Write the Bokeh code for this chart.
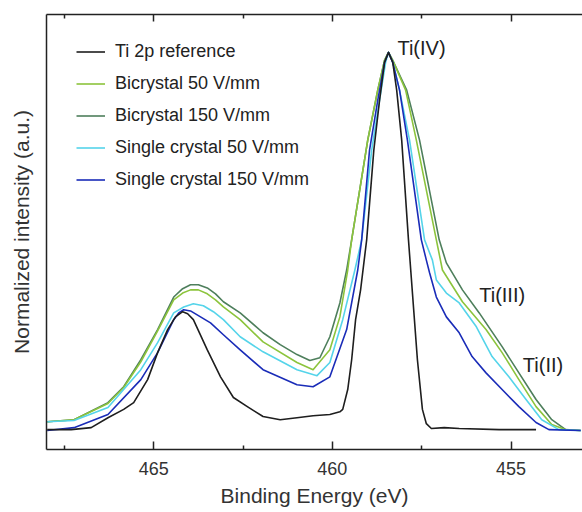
from bokeh.plotting import figure
from bokeh.models import Range1d, LinearAxis, FixedTicker, Label, Legend, LegendItem
from bokeh.embed import file_html
from bokeh.resources import INLINE

# ---- data (binding energy in eV, normalized intensity) ----
ref_energy = [467.98, 467.31, 466.75, 466.28, 465.84, 465.56, 465.17, 464.89, 464.61, 464.39,
              464.19, 464.05, 463.89, 463.50, 463.13, 462.77, 462.38, 461.94, 461.46, 460.99, 460.54,
              460.07, 459.79, 459.71, 459.57, 459.46, 459.35, 459.21, 459.04, 458.84, 458.68,
              458.54, 458.43, 458.31, 458.20, 458.06, 457.87, 457.62, 457.48, 457.37, 457.23,
              456.87, 456.45, 455.33, 454.30]
ref_int = [0.050, 0.050, 0.055, 0.080, 0.101, 0.118, 0.176, 0.244, 0.302, 0.334,
           0.347, 0.342, 0.327, 0.251, 0.183, 0.131, 0.108, 0.083, 0.075, 0.080, 0.085,
           0.088, 0.095, 0.101, 0.151, 0.226, 0.327, 0.402, 0.528, 0.754, 0.879,
           0.975, 1.000, 0.975, 0.905, 0.779, 0.528, 0.226, 0.101, 0.065, 0.053,
           0.055, 0.053, 0.050, 0.050]

bi150_energy = [467.98, 467.23, 466.28, 465.84, 465.36, 464.89, 464.44, 464.19, 463.97, 463.75,
                463.50, 463.27, 463.05,
                462.58, 461.94, 461.46, 460.99, 460.63, 460.35, 460.07, 459.79, 459.60, 459.46,
                459.01, 458.73, 458.54, 458.43, 458.31, 457.92, 457.56, 457.01, 456.81, 456.36,
                455.89, 455.25, 454.78, 454.30, 453.86, 453.47, 453.05]
bi150_int = [0.070, 0.075, 0.118, 0.158, 0.226, 0.302, 0.384, 0.405, 0.415, 0.415,
             0.407, 0.392, 0.372,
             0.344, 0.294, 0.264, 0.239, 0.224, 0.231, 0.284, 0.369, 0.452, 0.528,
             0.779, 0.905, 0.980, 1.000, 0.980, 0.905, 0.779, 0.528, 0.470, 0.402,
             0.344, 0.259, 0.193, 0.126, 0.075, 0.050, 0.048]

bi50_energy = [467.98, 467.23, 466.28, 465.84, 465.36, 464.89, 464.44, 464.19, 463.97, 463.75,
               463.50, 463.27, 463.05,
               462.58, 461.94, 460.99, 460.54, 460.07, 459.79, 459.57, 459.46, 459.01, 458.73,
               458.54, 458.43, 458.31, 457.95, 457.65, 457.09, 456.92, 456.36, 455.70, 455.25,
               454.78, 454.30, 453.86, 453.47, 453.05]
bi50_int = [0.070, 0.075, 0.116, 0.156, 0.221, 0.299, 0.377, 0.394, 0.402, 0.402,
            0.392, 0.377, 0.359,
            0.327, 0.271, 0.219, 0.201, 0.251, 0.334, 0.452, 0.528, 0.779, 0.905,
            0.980, 1.000, 0.980, 0.905, 0.779, 0.528, 0.452, 0.372, 0.302, 0.244,
            0.176, 0.108, 0.063, 0.050, 0.048]

sc50_energy = [467.98, 467.23, 466.28, 465.36, 464.89, 464.44, 464.16, 463.89, 463.61, 463.33,
               463.05, 462.58, 461.94,
               460.99, 460.43, 460.07, 459.71, 459.37, 459.18, 458.90, 458.68, 458.51, 458.43,
               458.31, 458.12, 457.84, 457.42, 457.20, 457.09, 456.81, 456.45, 455.97, 455.53,
               455.06, 454.58, 454.14, 453.66, 453.05]
sc50_int = [0.070, 0.073, 0.106, 0.201, 0.269, 0.344, 0.359, 0.367, 0.362, 0.347,
            0.327, 0.284, 0.246,
            0.201, 0.186, 0.219, 0.327, 0.452, 0.528, 0.754, 0.879, 0.975, 1.000,
            0.975, 0.905, 0.779, 0.528, 0.477, 0.427, 0.394, 0.369, 0.309, 0.234,
            0.183, 0.126, 0.075, 0.050, 0.048]

sc150_energy = [467.98, 467.23, 466.28, 465.36, 464.89, 464.44, 464.30, 464.16, 463.97, 463.69,
                463.41, 463.05, 462.58,
                461.94, 460.99, 460.54, 460.07, 459.60, 459.29, 459.18, 458.96, 458.73, 458.54,
                458.43, 458.31, 458.12, 457.90, 457.51, 457.37, 457.28, 457.09, 456.81, 456.45,
                456.09, 455.70, 455.25, 454.78, 454.30, 453.94, 453.05]
sc150_int = [0.048, 0.055, 0.088, 0.176, 0.244, 0.327, 0.344, 0.352, 0.349, 0.334,
             0.319, 0.289, 0.251,
             0.201, 0.163, 0.158, 0.183, 0.302, 0.452, 0.528, 0.754, 0.879, 0.975,
             1.000, 0.975, 0.905, 0.779, 0.528, 0.477, 0.445, 0.384, 0.334, 0.294,
             0.234, 0.193, 0.151, 0.108, 0.068, 0.050, 0.048]

series_names = ["Ti 2p reference", "Bicrystal 50 V/mm", "Bicrystal 150 V/mm",
                "Single crystal 50 V/mm", "Single crystal 150 V/mm"]
series_colors = ["#1e1e1e", "#8cc43c", "#4e7f5c", "#55d4ea", "#1a2cb8"]

major_ticks = [465, 460, 455]
minor_ticks = [467.5, 462.5, 457.5]

annotations = [("Ti(IV)", 458.18, 1.010), ("Ti(III)", 455.89, 0.389), ("Ti(II)", 454.67, 0.214)]

FONT = "Liberation Sans"

p = figure(width=582, height=509, output_backend="svg", toolbar_location=None,
           x_range=Range1d(468, 453), y_range=Range1d(0, 1.0955),
           x_axis_location=None, y_axis_location=None,
           min_border_left=46, min_border_right=0, min_border_top=14, min_border_bottom=0)
p.outline_line_color = None
p.background_fill_color = "white"
p.grid.grid_line_color = None

ticker = FixedTicker(ticks=major_ticks, minor_ticks=minor_ticks)

xb = LinearAxis(ticker=ticker, axis_label="Binding Energy (eV)",
                major_tick_in=8, major_tick_out=0, minor_tick_in=4, minor_tick_out=0,
                major_label_standoff=12, axis_label_standoff=6,
                axis_line_width=1.5, major_tick_line_width=1.5, minor_tick_line_width=1.5,
                axis_line_color="#222222", major_tick_line_color="#222222", minor_tick_line_color="#222222",
                major_label_text_font=FONT, major_label_text_font_size="18px",
                major_label_text_color="#333333",
                axis_label_text_font=FONT, axis_label_text_font_size="21px",
                axis_label_text_font_style="normal", axis_label_text_color="#333333")
p.add_layout(xb, "below")

xt = LinearAxis(ticker=ticker, major_tick_in=7, major_tick_out=0, minor_tick_in=4, minor_tick_out=0,
                major_label_standoff=0, major_label_overrides={465: "", 460: "", 455: ""},
                axis_line_width=1.5, major_tick_line_width=1.5, minor_tick_line_width=1.5,
                axis_line_color="#222222", major_tick_line_color="#222222", minor_tick_line_color="#222222")
p.add_layout(xt, "above")

yl = LinearAxis(ticker=FixedTicker(ticks=[]), axis_label="Normalized intensity (a.u.)",
                major_tick_in=0, major_tick_out=0, minor_tick_in=0, minor_tick_out=0,
                major_label_standoff=0,
                axis_label_standoff=14, axis_line_width=1.5, axis_line_color="#222222",
                axis_label_text_font=FONT, axis_label_text_font_size="21px",
                axis_label_text_font_style="normal", axis_label_text_color="#333333")
p.add_layout(yl, "left")

data = [(ref_energy, ref_int), (bi50_energy, bi50_int), (bi150_energy, bi150_int),
        (sc50_energy, sc50_int), (sc150_energy, sc150_int)]
renderers = {}
for idx in [2, 1, 3, 4, 0]:
    xs, ys = data[idx]
    renderers[idx] = p.line(xs, ys, line_color=series_colors[idx], line_width=1.6,
                            line_join="round")

items = [LegendItem(label=series_names[i], renderers=[renderers[i]]) for i in range(5)]
legend = Legend(items=items, location=(30, 259), margin=0, padding=0,
                border_line_color=None, background_fill_alpha=0,
                glyph_width=29, glyph_height=21, label_height=21, spacing=11,
                label_standoff=10, label_text_font=FONT, label_text_font_size="18px",
                label_text_color="#222222")
p.add_layout(legend)

for txt, ex, iy in annotations:
    p.add_layout(Label(x=ex, y=iy, text=txt, text_font=FONT, text_font_size="20px",
                       text_baseline="middle", text_align="left", text_color="#222222"))

open("out.html", "w").write(file_html(p, INLINE))
